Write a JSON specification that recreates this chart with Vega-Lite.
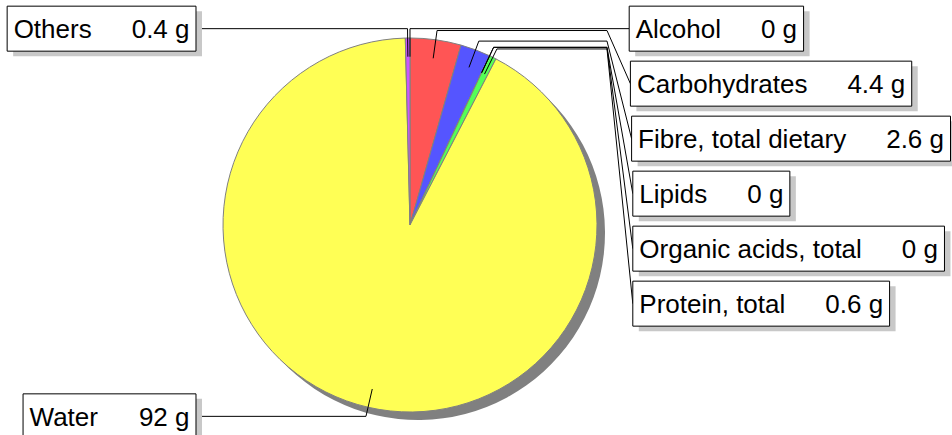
{
  "$schema": "https://vega.github.io/schema/vega-lite/v6.json",
  "width": 952,
  "height": 435,
  "padding": 0,
  "autosize": {"type": "none"},
  "background": "white",
  "config": {"view": {"stroke": null}, "axis": {"disable": true}},
  "data": {
    "values": [
      {"nutrient": "Alcohol", "grams": 0},
      {"nutrient": "Carbohydrates", "grams": 4.4},
      {"nutrient": "Fibre, total dietary", "grams": 2.6},
      {"nutrient": "Lipids", "grams": 0},
      {"nutrient": "Organic acids, total", "grams": 0},
      {"nutrient": "Protein, total", "grams": 0.6},
      {"nutrient": "Water", "grams": 92},
      {"nutrient": "Others", "grams": 0.4}
    ]
  },
  "transform": [
    {"window": [{"op": "row_number", "as": "idx"}]},
    {"window": [{"op": "sum", "field": "grams", "as": "cum"}], "sort": [{"field": "idx"}], "frame": [null, 0]},
    {"joinaggregate": [{"op": "sum", "field": "grams", "as": "total"}]},
    {"calculate": "(datum.cum - datum.grams / 2) / datum.total * 2 * PI", "as": "mid"},
    {"calculate": "datum.mid > PI ? 'left' : 'right'", "as": "side"},
    {"calculate": "datum.grams + ' g'", "as": "val"},
    {"calculate": "0.9 * sin(datum.mid)", "as": "ax"},
    {"calculate": "0.9 * cos(datum.mid)", "as": "ay"},
    {"calculate": "1.05 * sin(datum.mid)", "as": "ex"},
    {"calculate": "1.05 * cos(datum.mid)", "as": "ey"},
    {"window": [{"op": "row_number", "as": "slot"}], "groupby": ["side"], "sort": [{"field": "idx"}]},
    {"calculate": "0.556*length(datum.nutrient) - 0.334*(length(datum.nutrient)-length(replace(datum.nutrient,regexp('[ijl]','g'),''))) - 0.278*(length(datum.nutrient)-length(replace(datum.nutrient,regexp('[ .,ftI]','g'),''))) - 0.223*(length(datum.nutrient)-length(replace(datum.nutrient,regexp('r','g'),''))) - 0.056*(length(datum.nutrient)-length(replace(datum.nutrient,regexp('[csvxyzk]','g'),''))) + 0.277*(length(datum.nutrient)-length(replace(datum.nutrient,regexp('m','g'),''))) + 0.166*(length(datum.nutrient)-length(replace(datum.nutrient,regexp('[wCDHNRU]','g'),''))) + 0.111*(length(datum.nutrient)-length(replace(datum.nutrient,regexp('[ABEKPSVX]','g'),''))) + 0.055*(length(datum.nutrient)-length(replace(datum.nutrient,regexp('[FTZ]','g'),''))) + 0.222*(length(datum.nutrient)-length(replace(datum.nutrient,regexp('[OGQ]','g'),''))) + 0.388*(length(datum.nutrient)-length(replace(datum.nutrient,regexp('W','g'),'')))", "as": "wn"},
    {"calculate": "0.556*length(datum.val) - 0.278*(length(datum.val)-length(replace(datum.val,regexp('[ .]','g'),'')))", "as": "wv"},
    {"calculate": "(53 + 26 * (datum.wn + datum.wv)) / 187", "as": "bw"},
    {"calculate": "datum.side == 'right' ? 1.05 - (datum.slot - 1) * 55 / 187 : datum.ey", "as": "ly"},
    {"calculate": "datum.side == 'right' ? (218 + 1.2 * min(datum.slot, 4)) / 187 : -214 / 187 - datum.bw", "as": "bx0"},
    {"calculate": "datum.bx0 + datum.bw", "as": "bx1"},
    {"calculate": "datum.side == 'right' ? 197 / 187 : datum.bx1", "as": "hx"},
    {"calculate": "datum.side == 'right' ? datum.bx0 : datum.bx1", "as": "attach"},
    {"calculate": "datum.ly + 22.5 / 187", "as": "ytop"},
    {"calculate": "datum.ly - 22.5 / 187", "as": "ybot"},
    {"calculate": "datum.bx0 + 6 / 187", "as": "sx0"},
    {"calculate": "datum.bx1 + 6 / 187", "as": "sx1"},
    {"calculate": "datum.ytop - 5 / 187", "as": "sy0"},
    {"calculate": "datum.ybot - 5 / 187", "as": "sy1"},
    {"calculate": "datum.bx0 + 6.5 / 187", "as": "tx0"},
    {"calculate": "datum.bx1 - 6.5 / 187", "as": "tx1"},
    {"calculate": "datum.ly - 1.5 / 187", "as": "ty"}
  ],
  "layer": [
    {
      "mark": {"type": "arc", "outerRadius": 187, "fill": "#808080", "stroke": null},
      "encoding": {
        "theta": {"field": "grams", "type": "quantitative", "stack": true},
        "order": {"field": "idx", "type": "quantitative"},
        "x": {"datum": 0.0428, "type": "quantitative", "scale": {"domain": [-2.1925, 2.8984], "nice": false, "zero": false}},
        "y": {"datum": -0.0428, "type": "quantitative", "scale": {"domain": [-1.1230, 1.2032], "nice": false, "zero": false}}
      }
    },
    {
      "mark": {"type": "arc", "outerRadius": 187, "stroke": "#808080", "strokeWidth": 1},
      "encoding": {
        "theta": {"field": "grams", "type": "quantitative", "stack": true},
        "order": {"field": "idx", "type": "quantitative"},
        "color": {
          "field": "nutrient",
          "type": "nominal",
          "legend": null,
          "scale": {
            "domain": ["Alcohol", "Carbohydrates", "Fibre, total dietary", "Lipids", "Organic acids, total", "Protein, total", "Water", "Others"],
            "range": ["#55ffff", "#ff5555", "#5555ff", "#ff55aa", "#aaaaaa", "#55ff55", "#ffff55", "#cc55ff"]
          }
        },
        "x": {"datum": 0, "type": "quantitative"},
        "y": {"datum": 0, "type": "quantitative"}
      }
    },
    {
      "mark": {"type": "rule", "color": "black", "strokeWidth": 1},
      "encoding": {
        "x": {"field": "ax", "type": "quantitative"},
        "y": {"field": "ay", "type": "quantitative"},
        "x2": {"field": "ex"},
        "y2": {"field": "ey"}
      }
    },
    {
      "mark": {"type": "rule", "color": "black", "strokeWidth": 1},
      "encoding": {
        "x": {"field": "ex", "type": "quantitative"},
        "y": {"field": "ey", "type": "quantitative"},
        "x2": {"field": "hx"},
        "y2": {"field": "ey"}
      }
    },
    {
      "mark": {"type": "rule", "color": "black", "strokeWidth": 1},
      "encoding": {
        "x": {"field": "hx", "type": "quantitative"},
        "y": {"field": "ey", "type": "quantitative"},
        "x2": {"field": "attach"},
        "y2": {"field": "ly"}
      }
    },
    {
      "mark": {"type": "rect", "fill": "#c8c8c8"},
      "encoding": {
        "x": {"field": "sx0", "type": "quantitative"},
        "x2": {"field": "sx1"},
        "y": {"field": "sy0", "type": "quantitative"},
        "y2": {"field": "sy1"}
      }
    },
    {
      "mark": {"type": "rect", "fill": "white", "stroke": "black", "strokeWidth": 1},
      "encoding": {
        "x": {"field": "bx0", "type": "quantitative"},
        "x2": {"field": "bx1"},
        "y": {"field": "ytop", "type": "quantitative"},
        "y2": {"field": "ybot"}
      }
    },
    {
      "mark": {"type": "text", "align": "left", "baseline": "middle", "font": "Liberation Sans", "fontSize": 26, "color": "black"},
      "encoding": {
        "x": {"field": "tx0", "type": "quantitative"},
        "y": {"field": "ty", "type": "quantitative"},
        "text": {"field": "nutrient"}
      }
    },
    {
      "mark": {"type": "text", "align": "right", "baseline": "middle", "font": "Liberation Sans", "fontSize": 26, "color": "black"},
      "encoding": {
        "x": {"field": "tx1", "type": "quantitative"},
        "y": {"field": "ty", "type": "quantitative"},
        "text": {"field": "val"}
      }
    }
  ]
}
